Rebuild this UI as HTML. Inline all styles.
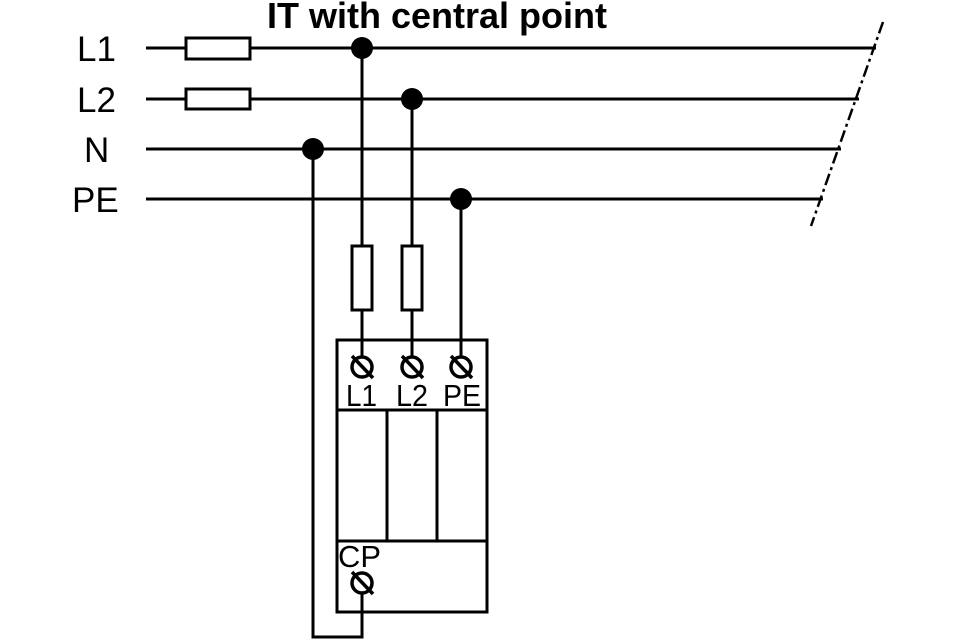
<!DOCTYPE html>
<html><head><meta charset="utf-8"><style>body{margin:0;background:#fff}svg{display:block}</style></head>
<body>
<svg width="960" height="640" viewBox="0 0 960 640" xmlns="http://www.w3.org/2000/svg" font-family="'Liberation Sans', Arial, sans-serif">
<rect width="960" height="640" fill="#fff"/>
<text x="437" y="28" font-size="36" font-weight="bold" text-anchor="middle">IT with central point</text>
<g font-size="35" fill="#000">
<text x="77" y="61">L1</text>
<text x="77" y="112">L2</text>
<text x="84" y="162">N</text>
<text x="72" y="212">PE</text>
</g>
<g stroke="#000" stroke-width="3" fill="none">
<line x1="146" y1="48" x2="876" y2="48"/>
<line x1="146" y1="99" x2="859" y2="99"/>
<line x1="146" y1="149" x2="841" y2="149"/>
<line x1="146" y1="199" x2="823" y2="199"/>
<line x1="883" y1="22" x2="811" y2="226" stroke-width="2.5" stroke-dasharray="12,4,3,4"/>
<rect x="186" y="38" width="64" height="21" fill="#fff"/>
<rect x="186" y="89" width="64" height="20" fill="#fff"/>
<line x1="362" y1="48" x2="362" y2="365"/>
<line x1="412" y1="99" x2="412" y2="365"/>
<line x1="461" y1="199" x2="461" y2="365"/>
<polyline points="313,149 313,637 362,637 362,583"/>
<rect x="352" y="246" width="20" height="64" fill="#fff"/>
<rect x="402" y="246" width="20" height="64" fill="#fff"/>
<rect x="337" y="340" width="150" height="272"/>
<line x1="337" y1="410" x2="487" y2="410"/>
<line x1="337" y1="541" x2="487" y2="541"/>
<line x1="387" y1="410" x2="387" y2="541"/>
<line x1="437" y1="410" x2="437" y2="541"/>
<g fill="#fff" stroke-width="3.5">
<circle cx="362" cy="367" r="10"/><circle cx="412" cy="367" r="10"/><circle cx="461" cy="367" r="10"/><circle cx="362" cy="583" r="10"/>
</g>
<g stroke-width="3.5">
<line x1="352" y1="356" x2="373" y2="378"/>
<line x1="402" y1="356" x2="423" y2="378"/>
<line x1="451" y1="356" x2="472" y2="378"/>
<line x1="352" y1="572" x2="373" y2="594"/>
</g>
</g>
<g fill="#000">
<circle cx="362" cy="48" r="11"/><circle cx="412" cy="99" r="11"/><circle cx="313" cy="149" r="11"/><circle cx="461" cy="199" r="11"/>
</g>
<g font-size="31" fill="#000">
<text x="346" y="406" textLength="31" lengthAdjust="spacingAndGlyphs">L1</text>
<text x="396" y="406" textLength="32" lengthAdjust="spacingAndGlyphs">L2</text>
<text x="443" y="406" textLength="38" lengthAdjust="spacingAndGlyphs">PE</text>
<text x="338" y="567" textLength="43" lengthAdjust="spacingAndGlyphs">CP</text>
</g>
</svg>
</body></html>
